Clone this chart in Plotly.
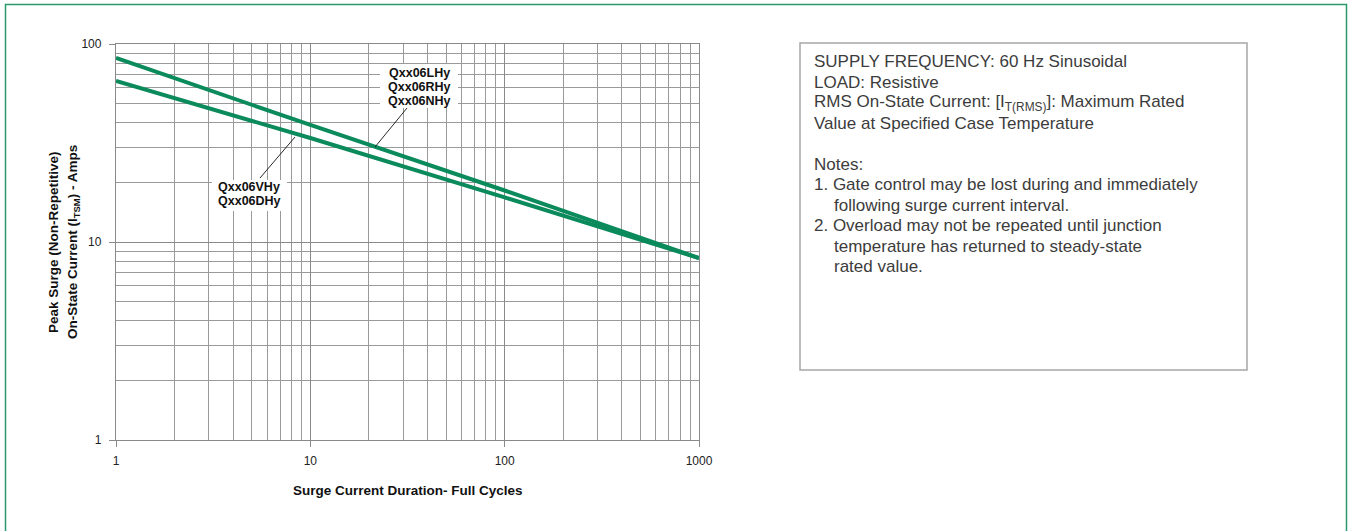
import numpy as np
import plotly.graph_objects as go

# ---- data ----
cycles = [1, 10, 100, 1000]
itsm_lrn = [85, 39, 18.2, 8.3]     # Qxx06LHy / RHy / NHy
itsm_vd = [65, 33.5, 16.8, 8.3]    # Qxx06VHy / DHy

x_ticks = [1, 10, 100, 1000]
x_ticktext = ["1", "10", "100", "1000"]
y_ticks = [1, 10, 100]
y_ticktext = ["1", "10", "100"]

label_upper = ["Qxx06LHy", "Qxx06RHy", "Qxx06NHy"]
label_lower = ["Qxx06VHy", "Qxx06DHy"]
y_title = ["Peak Surge (Non-Repetitive)", "On-State Current (I<sub>TSM</sub>) - Amps"]
x_title = "Surge Current Duration- Full Cycles"
notes = [
    ("SUPPLY FREQUENCY: 60 Hz Sinusoidal", 0),
    ("LOAD: Resistive", 0),
    ("RMS On-State Current: [I<sub>T(RMS)</sub>]: Maximum Rated", 0),
    ("Value at Specified Case Temperature", 0),
    ("", 0),
    ("Notes:", 0),
    ("1. Gate control may be lost during and immediately", 0),
    ("following surge current interval.", 1),
    ("2. Overload may not be repeated until junction", 0),
    ("temperature has returned to steady-state", 1),
    ("rated value.", 1),
]

minor_x = [m * 10 ** d for d in range(3) for m in range(2, 10)]
minor_y = [m * 10 ** d for d in range(2) for m in range(2, 10)]

# ---- layout geometry (pixels) ----
W, H = 1348, 531
PX0, PX1, PY0, PY1 = 116, 699, 44, 440


def xp(px):
    return (px - PX0) / (PX1 - PX0)


def yp(py):
    return (PY1 - py) / (PY1 - PY0)


GREEN = "#0b8a5c"
GRID = "#9a9a9a"
FONT = "Liberation Sans, Arial, sans-serif"

fig = go.Figure()
fig.add_trace(go.Scatter(x=cycles, y=itsm_vd, mode="lines",
                         line=dict(color=GREEN, width=4), showlegend=False))
fig.add_trace(go.Scatter(x=cycles, y=itsm_lrn, mode="lines",
                         line=dict(color=GREEN, width=4), showlegend=False))

axis_common = dict(
    type="log", showgrid=True, gridcolor="#8a8a8a", gridwidth=1.3,
    showline=True, linecolor="#8a8a8a", linewidth=1.3, mirror=True,
    zeroline=False, ticks="outside", ticklen=6, tickcolor="#8a8a8a",
    tickfont=dict(family=FONT, size=12, color="#222"),
)
fig.update_xaxes(range=[0, 3], tickvals=x_ticks, ticktext=x_ticktext,
                 ticklabelstandoff=3,
                 minor=dict(tickvals=minor_x, showgrid=True, gridcolor=GRID,
                            gridwidth=1, ticks=""),
                 **axis_common)
fig.update_yaxes(range=[0, 2], tickvals=y_ticks, ticktext=y_ticktext,
                 ticklabelstandoff=5,
                 minor=dict(tickvals=minor_y, showgrid=True, gridcolor=GRID,
                            gridwidth=1, ticks=""),
                 **axis_common)

shapes = []
annotations = []

# outer green frame
shapes.append(dict(type="rect", xref="paper", yref="paper",
                   x0=xp(5.5), x1=xp(1346.5), y0=yp(534), y1=yp(4.5),
                   line=dict(color="#2a9a6c", width=1.5), fillcolor="rgba(0,0,0,0)",
                   layer="above"))

# white backgrounds behind curve labels
shapes.append(dict(type="rect", xref="paper", yref="paper",
                   x0=xp(380), x1=xp(458), y0=yp(108), y1=yp(64),
                   line=dict(width=0), fillcolor="white", layer="above"))
shapes.append(dict(type="rect", xref="paper", yref="paper",
                   x0=xp(212), x1=xp(287), y0=yp(211), y1=yp(180),
                   line=dict(width=0), fillcolor="white", layer="above"))

# leader lines
shapes.append(dict(type="line", xref="paper", yref="paper",
                   x0=xp(407), y0=yp(108), x1=xp(375), y1=yp(147),
                   line=dict(color="#111", width=0.9), layer="above"))
shapes.append(dict(type="line", xref="paper", yref="paper",
                   x0=xp(260), y0=yp(178), x1=xp(295), y1=yp(137),
                   line=dict(color="#111", width=0.9), layer="above"))

# notes box
shapes.append(dict(type="rect", xref="paper", yref="paper",
                   x0=xp(800), x1=xp(1247), y0=yp(370), y1=yp(43),
                   line=dict(color="#a6a6a6", width=1.5), fillcolor="rgba(0,0,0,0)"))

lab_font = dict(family=FONT, size=12.5, color="#111", weight="bold")
for i, t in enumerate(label_upper):
    annotations.append(dict(text=t, xref="paper", yref="paper", x=xp(419),
                            y=yp(73.3 + 13.7 * i), showarrow=False,
                            xanchor="center", yanchor="middle", font=lab_font))
for i, t in enumerate(label_lower):
    annotations.append(dict(text=t, xref="paper", yref="paper", x=xp(249),
                            y=yp(187 + 13.5 * i), showarrow=False,
                            xanchor="center", yanchor="middle", font=lab_font))

title_font = dict(family=FONT, size=13.5, color="#111", weight="bold")
for i, t in enumerate(y_title):
    annotations.append(dict(text=t, xref="paper", yref="paper", x=xp(53 + 20 * i),
                            y=yp(242), showarrow=False, textangle=-90,
                            xanchor="center", yanchor="middle", font=title_font))
annotations.append(dict(text=x_title, xref="paper", yref="paper", x=xp(408),
                        y=yp(490), showarrow=False, xanchor="center",
                        yanchor="middle", font=title_font))

note_font = dict(family=FONT, size=17, color="#3c3c3c")
for i, (t, ind) in enumerate(notes):
    if not t:
        continue
    annotations.append(dict(text=t, xref="paper", yref="paper",
                            x=xp(812 + 20 * ind), y=yp(61.7 + 20.5 * i),
                            showarrow=False, xanchor="left", yanchor="middle",
                            font=note_font))

fig.update_layout(
    width=W, height=H,
    margin=dict(l=PX0, r=W - PX1, t=PY0, b=H - PY1, pad=0),
    paper_bgcolor="white", plot_bgcolor="white",
    shapes=shapes, annotations=annotations, showlegend=False,
)

fig.write_html("out.html", config={"displayModeBar": False},
               post_script="document.body.style.margin='0';document.body.style.overflow='hidden';")
